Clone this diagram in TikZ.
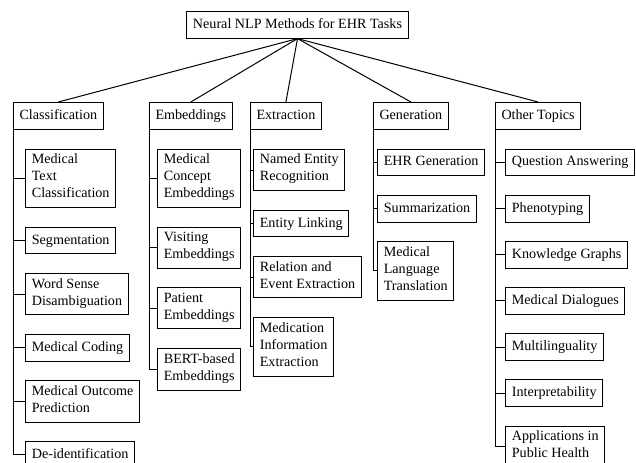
\documentclass[tikz,border=0pt]{standalone}
\usepackage{fontspec}
\setmainfont{Liberation Serif}
\usetikzlibrary{positioning}

\tikzset{
    box/.style={draw, line width=0.75pt, align=left,
        inner xsep=4.5pt, inner ysep=3.6pt,
        font=\fontsize{10.6pt}{12.75pt}\selectfont,
        execute at begin node=\strut, execute at end node=\strut},
    start/.style={inner sep=0pt, outer sep=0pt},
    link/.style={draw, line width=0.75pt},
}

\begin{document}
\begin{tikzpicture}[x=0.75pt, y=-0.75pt]
    \def\gap{13.9pt}
    \useasboundingbox (0,0) rectangle (636,463);

    % Root
    \node[box, anchor=north] (root) at (297.5,11) {Neural NLP Methods for EHR Tasks};

    % Topics
    \node[box, anchor=north west] (cls) at (13,102) {Classification};
    \node[box, anchor=north west] (emb) at (149,102) {Embeddings};
    \node[box, anchor=north west] (ext) at (250,102) {Extraction};
    \node[box, anchor=north west] (gen) at (373,102) {Generation};
    \node[box, anchor=north west] (oth) at (495,102) {Other Topics};

    \foreach \top in {cls,emb,ext,gen,oth} {
        \draw[link] (root.south) -- (\top.north);
    }

    % Classification
    \node[start] (cls0) at ([xshift=9.75pt]cls.south west) {};
    \foreach \n/\txt [remember=\n as \p (initially cls0)] in {
        cls1/{Medical\\Text\\Classification},
        cls2/Segmentation,
        cls3/{Word Sense\\Disambiguation},
        cls4/Medical Coding,
        cls5/{Medical Outcome\\Prediction},
        cls6/De-identification} {
        \node[box, below=\gap of \p.south west, anchor=north west] (\n) {\txt};
        \draw[link] (cls.south west) |- (\n.west);
    }

    % Embeddings
    \node[start] (emb0) at ([xshift=6.75pt]emb.south west) {};
    \foreach \n/\txt [remember=\n as \p (initially emb0)] in {
        emb1/{Medical\\Concept\\Embeddings},
        emb2/{Visiting\\Embeddings},
        emb3/{Patient\\Embeddings},
        emb4/{BERT-based\\Embeddings}} {
        \node[box, below=\gap of \p.south west, anchor=north west] (\n) {\txt};
        \draw[link] (emb.south west) |- (\n.west);
    }

    % Extraction
    \node[start] (ext0) at ([xshift=3pt]ext.south west) {};
    \foreach \n/\txt [remember=\n as \p (initially ext0)] in {
        ext1/{Named Entity\\Recognition},
        ext2/Entity Linking,
        ext3/{Relation and\\Event Extraction},
        ext4/{Medication\\Information\\Extraction}} {
        \node[box, below=\gap of \p.south west, anchor=north west] (\n) {\txt};
        \draw[link] (ext.south west) |- (\n.west);
    }

    % Generation
    \node[start] (gen0) at ([xshift=3.75pt]gen.south west) {};
    \foreach \n/\txt [remember=\n as \p (initially gen0)] in {
        gen1/EHR Generation,
        gen2/Summarization,
        gen3/{Medical\\Language\\Translation}} {
        \node[box, below=\gap of \p.south west, anchor=north west] (\n) {\txt};
        \draw[link] (gen.south west) |- (\n.west);
    }

    % Other Topics
    \node[start] (oth0) at ([xshift=8.25pt]oth.south west) {};
    \foreach \n/\txt [remember=\n as \p (initially oth0)] in {
        oth1/Question Answering,
        oth2/Phenotyping,
        oth3/Knowledge Graphs,
        oth4/Medical Dialogues,
        oth5/Multilinguality,
        oth6/Interpretability,
        oth7/{Applications in\\Public Health}} {
        \node[box, below=\gap of \p.south west, anchor=north west] (\n) {\txt};
        \draw[link] (oth.south west) |- (\n.west);
    }
\end{tikzpicture}
\end{document}
